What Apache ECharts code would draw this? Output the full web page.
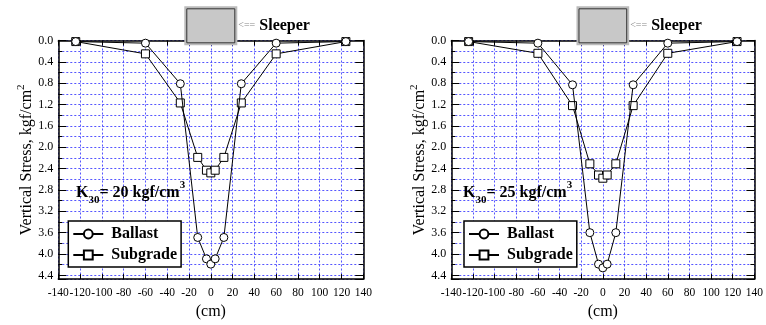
<!DOCTYPE html>
<html>
<head>
<meta charset="utf-8">
<script src="https://cdn.jsdelivr.net/npm/echarts@6/dist/echarts.min.js"></script>
<style>
  html, body { margin: 0; padding: 0; background: #fff; }
  #chart { width: 766px; height: 325px; }
</style>
</head>
<body>
<div id="chart"></div>
<script>
// ---------- data ----------
const positions = [-124, -60, -28, -12, -4, 0, 4, 12, 28, 60, 124];
const ballast20 = [0.02, 0.05, 0.81, 3.69, 4.09, 4.19, 4.09, 3.69, 0.81, 0.05, 0.02];
const subgrade20 = [0.02, 0.25, 1.17, 2.19, 2.43, 2.48, 2.43, 2.19, 1.17, 0.25, 0.02];
const ballast25 = [0.02, 0.05, 0.83, 3.60, 4.19, 4.26, 4.19, 3.60, 0.83, 0.05, 0.02];
const subgrade25 = [0.02, 0.24, 1.22, 2.31, 2.52, 2.58, 2.52, 2.31, 1.22, 0.24, 0.02];
const panelLabels = ['20', '25'];
const seriesNames = ['Ballast', 'Subgrade'];
const xTickMin = -140, xTickMax = 140, xTickStep = 20;
const yTickMin = 0, yTickMax = 4.47, yMinorStep = 0.2, yLabelStep = 0.4;
const sleeperHalfWidth = 22.5;

// ---------- style ----------
const SERIF = 'Liberation Serif';
const GRIDBLUE = '#5555ff';
const grids = [
  { left: 58.3, right: 766 - 363.3, top: 40.5, bottom: 44.5 },
  { left: 451.3, right: 766 - 757, top: 40.5, bottom: 44.5 }
];

const chart = echarts.init(document.getElementById('chart'), null, { renderer: 'canvas' });

function pairs(xs, ys) { return xs.map((x, i) => [x, ys[i]]); }

const xAxes = [], yAxes = [], series = [], legends = [];
grids.forEach((g, gi) => {
  // bottom x axis with labels
  xAxes.push({
    type: 'value', gridIndex: gi, min: xTickMin, max: xTickMax, interval: xTickStep,
    position: 'bottom',
    axisLine: { show: true, onZero: false, lineStyle: { color: '#000', width: 1.5 } },
    axisTick: { show: true, inside: true, length: 5, lineStyle: { color: '#000', width: 1 } },
    axisLabel: { show: true, interval: 0, color: '#000', fontFamily: SERIF, fontSize: 11.5, margin: 8 },
    splitLine: { show: true, lineStyle: { color: GRIDBLUE, type: [2, 2], width: 1 } },
    name: '(cm)', nameLocation: 'middle', nameGap: 22,
    nameTextStyle: { color: '#000', fontFamily: SERIF, fontSize: 16 }
  });
  // top x axis ticks only
  xAxes.push({
    type: 'value', gridIndex: gi, min: xTickMin, max: xTickMax, interval: xTickStep,
    position: 'top',
    axisLine: { show: true, onZero: false, lineStyle: { color: '#000', width: 1.5 } },
    axisTick: { show: true, inside: true, length: 5, lineStyle: { color: '#000', width: 1 } },
    axisLabel: { show: false }, splitLine: { show: false }
  });
  const labelFmt = v => {
    const r = v / yLabelStep;
    return Math.abs(r - Math.round(r)) < 1e-6 ? v.toFixed(1) : '';
  };
  // left y axis: minor step, labels every 0.4
  yAxes.push({
    type: 'value', gridIndex: gi, min: yTickMin, max: yTickMax, interval: yMinorStep, inverse: true,
    position: 'left',
    axisLine: { show: true, onZero: false, lineStyle: { color: '#000', width: 1.5 } },
    axisTick: { show: true, inside: true, length: 4, lineStyle: { color: '#000', width: 1 } },
    axisLabel: { show: true, color: '#000', fontFamily: SERIF, fontSize: 12, margin: 5,
                 formatter: labelFmt, showMaxLabel: false },
    splitLine: { show: true, lineStyle: { color: GRIDBLUE, type: [2, 2], width: 1 } },
    name: '{t|Vertical Stress, kgf/cm}{s|2}', nameLocation: 'middle', nameGap: 24,
    nameTextStyle: {
      color: '#000', fontFamily: SERIF, fontSize: 16,
      rich: {
        t: { fontFamily: SERIF, fontSize: 16, color: '#000', lineHeight: 19, verticalAlign: 'bottom' },
        s: { fontFamily: SERIF, fontSize: 11, color: '#000', lineHeight: 19, verticalAlign: 'top' }
      }
    }
  });
  // left y axis: longer ticks at labels
  yAxes.push({
    type: 'value', gridIndex: gi, min: yTickMin, max: yTickMax, interval: yLabelStep, inverse: true,
    position: 'left',
    axisLine: { show: false, onZero: false },
    axisTick: { show: true, inside: true, length: 8, lineStyle: { color: '#000', width: 1 } },
    axisLabel: { show: false }, splitLine: { show: false }
  });
  // right y axis
  yAxes.push({
    type: 'value', gridIndex: gi, min: yTickMin, max: yTickMax, interval: yMinorStep, inverse: true,
    position: 'right',
    axisLine: { show: true, onZero: false, lineStyle: { color: '#000', width: 1.5 } },
    axisTick: { show: true, inside: true, length: 4, lineStyle: { color: '#000', width: 1 } },
    axisLabel: { show: false }, splitLine: { show: false }
  });
  yAxes.push({
    type: 'value', gridIndex: gi, min: yTickMin, max: yTickMax, interval: yLabelStep, inverse: true,
    position: 'right',
    axisLine: { show: false, onZero: false },
    axisTick: { show: true, inside: true, length: 8, lineStyle: { color: '#000', width: 1 } },
    axisLabel: { show: false }, splitLine: { show: false }
  });
});

const panels = [[ballast20, subgrade20], [ballast25, subgrade25]];
const symbols = ['circle', 'rect'];
panels.forEach((vals, gi) => {
  vals.forEach((ys, si) => {
    series.push({
      name: seriesNames[si], type: 'line',
      xAxisIndex: gi * 2, yAxisIndex: gi * 4,
      data: pairs(positions, ys),
      symbol: symbols[si], symbolSize: 8, showAllSymbol: true,
      lineStyle: { color: '#000', width: 1 },
      itemStyle: { color: '#fff', borderColor: '#000', borderWidth: 1 },
      emphasis: { disabled: true }, z: 5 - si
    });
  });
});

const legendPos = [{ left: 68.3, top: 221 }, { left: 464, top: 221 }];
legendPos.forEach(p => {
  legends.push({
    left: p.left, top: p.top, orient: 'vertical',
    data: seriesNames,
    backgroundColor: '#fff', borderColor: '#000', borderWidth: 1.5,
    padding: [5, 4, 4, 4], itemGap: 5, itemWidth: 30, itemHeight: 11,
    textStyle: { color: '#000', fontFamily: SERIF, fontSize: 16, fontWeight: 'bold', padding: [0, 0, 0, 3] },
    selectedMode: false
  });
});

chart.setOption({
  animation: false,
  backgroundColor: '#fff',
  grid: grids,
  xAxis: xAxes,
  yAxis: yAxes,
  legend: legends,
  series: series
});

// ---------- annotations (sleeper and K30 labels) ----------
const graphics = [];
const kPos = [{ x: 76, y: 193 }, { x: 463, y: 193 }];
grids.forEach((g, gi) => {
  const xl = chart.convertToPixel({ xAxisIndex: gi * 2 }, -sleeperHalfWidth);
  const xr = chart.convertToPixel({ xAxisIndex: gi * 2 }, sleeperHalfWidth);
  graphics.push({
    type: 'rect', shape: { x: xl - 1, y: 7.3, width: xr - xl + 2, height: 37 },
    style: { fill: '#c8c8c8', stroke: '#bbbbbb', lineWidth: 2 }, z: 100
  });
  graphics.push({
    type: 'rect', shape: { x: xl + 0.5, y: 8.8, width: xr - xl - 1, height: 34 },
    style: { fill: '#c8c8c8', stroke: '#333', lineWidth: 1 }, z: 101
  });
  graphics.push({
    type: 'text', x: xr + 3, y: 25, z: 101,
    style: { text: '<==', fill: '#888', font: '10px ' + SERIF, textVerticalAlign: 'middle' }
  });
  graphics.push({
    type: 'text', x: xr + 24, y: 26, z: 101,
    style: { text: 'Sleeper', fill: '#000', font: 'bold 16px ' + SERIF, textVerticalAlign: 'middle' }
  });
  graphics.push({
    type: 'text', x: kPos[gi].x, y: kPos[gi].y, z: 101,
    style: {
      text: '{k|K}{sub|30}{k|= ' + panelLabels[gi] + ' kgf/cm}{sup|3}',
      textVerticalAlign: 'middle',
      rich: {
        k: { font: 'bold 16px ' + SERIF, fill: '#000', lineHeight: 26, verticalAlign: 'middle' },
        sub: { font: 'bold 11px ' + SERIF, fill: '#000', lineHeight: 26, verticalAlign: 'bottom' },
        sup: { font: 'bold 11px ' + SERIF, fill: '#000', lineHeight: 26, verticalAlign: 'top' }
      }
    }
  });
});
chart.setOption({ graphic: graphics });
</script>
</body>
</html>
